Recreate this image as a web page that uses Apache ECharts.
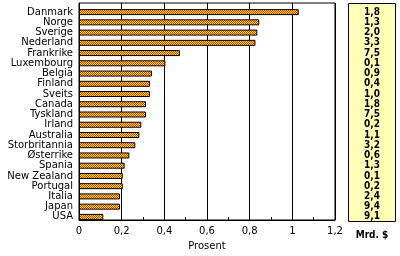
<!DOCTYPE html>
<html><head><meta charset="utf-8">
<script src="https://cdn.jsdelivr.net/npm/echarts@6/dist/echarts.min.js"></script>
<style>html,body{margin:0;padding:0;background:#fff}#c{width:400px;height:256px}</style>
</head><body><div id="c"></div>
<script>
var countries = ["Danmark","Norge","Sverige","Nederland","Frankrike","Luxembourg","Belgia","Finland","Sveits","Canada","Tyskland","Irland","Australia","Storbritannia","Østerrike","Spania","New Zealand","Portugal","Italia","Japan","USA"];
var prosent = [1.03,0.845,0.836,0.827,0.473,0.405,0.342,0.333,0.333,0.314,0.314,0.292,0.283,0.264,0.236,0.214,0.205,0.205,0.192,0.192,0.114];
var mrd = ["1,8","1,3","2,0","3,3","7,5","0,1","0,9","0,4","1,0","1,8","7,5","0,2","1,1","3,2","0,6","1,3","0,1","0,2","2,4","9,4","9,1"];
var xTicks = {min:0, max:1.2, interval:0.2};

function checker(a, b) {
  var c = document.createElement('canvas'); c.width = 2; c.height = 2;
  var g = c.getContext('2d');
  g.fillStyle = b; g.fillRect(0,0,2,2);
  g.fillStyle = a; g.fillRect(0,0,1,1); g.fillRect(1,1,1,1);
  return c;
}
var barPat = {image: checker('#ff2000', '#ffff00'), repeat: 'repeat'};

var chart = echarts.init(document.getElementById('c'), null, {renderer:'canvas'});
var font = 'DejaVu Sans';
chart.setOption({
  animation: false,
  grid: [
    {left:79, right:65, top:3, bottom:31, show:true, borderColor:'#000', borderWidth:1, containLabel:false},
    {left:79, right:65, top:7, bottom:34, containLabel:false}
  ],
  xAxis: [
    {gridIndex:0, type:'value', min:xTicks.min, max:xTicks.max, interval:xTicks.interval,
     axisLine:{show:true, lineStyle:{color:'#000', width:1}},
     axisTick:{show:true, inside:true, length:3, lineStyle:{color:'#000'}},
     minorTick:{show:true, splitNumber:2, length:3, lineStyle:{color:'#000'}},
     splitLine:{show:true, lineStyle:{color:'#000', width:1}},
     axisLabel:{color:'#000', fontFamily:font, fontSize:10, margin:6,
       formatter:function(v){return String(Math.round(v*10)/10).replace('.',',');}},
     name:'Prosent', nameLocation:'middle', nameGap:21,
     nameTextStyle:{color:'#000', fontFamily:font, fontSize:10}},
    {gridIndex:1, type:'value', min:xTicks.min, max:xTicks.max, show:false}
  ],
  yAxis: [
    {gridIndex:0, type:'value', show:false},
    {gridIndex:1, type:'category', inverse:true, data:countries,
     axisLine:{show:false}, axisTick:{show:false}, splitLine:{show:false},
     axisLabel:{color:'#000', fontFamily:font, fontSize:10, margin:6, interval:0}},
    {gridIndex:1, type:'category', inverse:true, position:'right', data:mrd,
     axisLine:{show:false}, axisTick:{show:false}, splitLine:{show:false},
     axisLabel:{color:'#000', fontFamily:'DejaVu Sans Condensed', fontWeight:'bold', fontSize:10, margin:37, align:'center', interval:0}, z:10}
  ],
  graphic: [
    {type:'rect', shape:{x:348.5, y:3.5, width:47, height:218}, style:{fill:'#ffffb8', stroke:'#000', lineWidth:1}, z:0},
    {type:'text', x:372, y:235, style:{text:'Mrd. $', fill:'#000', font:'bold 10px "DejaVu Sans Condensed"', textAlign:'center', textVerticalAlign:'middle'}}
  ],
  series: [
    {type:'bar', xAxisIndex:1, yAxisIndex:1, data:prosent, barWidth:6,
     itemStyle:{color:barPat, borderColor:'#000', borderWidth:1}, z:5}
  ]
});
</script></body></html>
